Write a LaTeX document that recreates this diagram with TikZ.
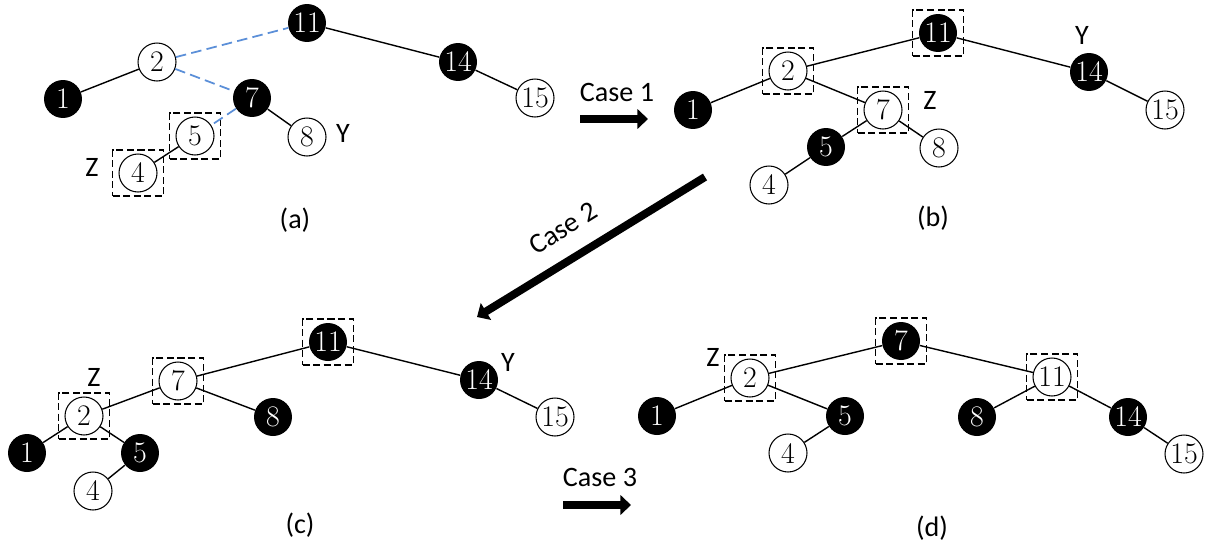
\documentclass[tikz,border=0pt]{standalone}
\usepackage{fontspec}
\setsansfont{Carlito}
\usepackage{tikz}
\usetikzlibrary{arrows.meta}
\definecolor{LinkBlue}{HTML}{5B8FD8}

\tikzset{
  bnode/.style={circle, fill=black, text=white, minimum size=0.76cm,
    inner sep=0pt, font=\fontsize{17}{17}\selectfont},
  wnode/.style={circle, draw, fill=white, minimum size=0.76cm,
    inner sep=0pt, line width=0.6pt, font=\fontsize{17}{17}\selectfont},
  selbox/.style={draw, dash pattern=on 4pt off 2pt, line width=0.7pt,
    minimum width=1.02cm, minimum height=0.92cm, inner sep=0pt},
  lbl/.style={font=\sffamily\fontsize{16}{19}\selectfont, inner sep=0pt},
  link/.style={line width=0.8pt},
  bluelink/.style={draw=LinkBlue, dash pattern=on 6pt off 3pt, line width=1pt},
  casearrow/.style={line width=4pt, -{Triangle[length=6pt,width=11pt]}}
}

\begin{document}
\begin{tikzpicture}[x=0.02cm, y=-0.02cm]
  \useasboundingbox (0,0) rectangle (1213,548);

  % (a)
  \node[bnode] (a11) at (307,23) {11};
  \node[wnode] (a2) at (157,62) {2};
  \node[bnode] (a1) at (63,99) {1};
  \node[bnode] (a7) at (252,98) {7};
  \node[wnode] (a5) at (195,136) {5};
  \node[wnode] (a8) at (307,137) {8};
  \node[wnode] (a4) at (138,173) {4};
  \node[bnode] (a14) at (458,62) {14};
  \node[wnode] (a15) at (535,98) {15};
  \node[selbox] (a5box) at (a5) {};
  \node[selbox] (a4box) at (a4) {};
  \node[lbl] (aY) at (343,133) {Y};
  \node[lbl] (aZ) at (92,167) {Z};
  \node[lbl] (acap) at (295,220) {(a)};
  \foreach \u/\v in {a11/a14, a14/a15, a2/a1, a7/a8, a5/a4}
    \draw[link] (\u) -- (\v);
  \foreach \u/\v in {a2/a11, a2/a7, a7/a5}
    \draw[bluelink] (\u) -- (\v);

  % (b)
  \node[bnode] (b11) at (938,33) {11};
  \node[bnode] (b14) at (1089,72) {14};
  \node[wnode] (b15) at (1165,110) {15};
  \node[wnode] (b2) at (788,71) {2};
  \node[bnode] (b1) at (693,110) {1};
  \node[wnode] (b7) at (883,110) {7};
  \node[bnode] (b5) at (826,147) {5};
  \node[wnode] (b8) at (939,148) {8};
  \node[wnode] (b4) at (769,185) {4};
  \node[selbox] (b11box) at (b11) {};
  \node[selbox] (b2box) at (b2) {};
  \node[selbox] (b7box) at (b7) {};
  \node[lbl] (bY) at (1082,35) {Y};
  \node[lbl] (bZ) at (930,100) {Z};
  \node[lbl] (bcap) at (933,218) {(b)};
  \foreach \u/\v in {b11/b2, b11/b14, b14/b15, b2/b1, b2/b7, b7/b5, b7/b8, b5/b4}
    \draw[link] (\u) -- (\v);

  % (c)
  \node[bnode] (c11) at (328,342) {11};
  \node[wnode] (c7) at (178,381) {7};
  \node[wnode] (c2) at (84,416) {2};
  \node[bnode] (c8) at (273,417) {8};
  \node[bnode] (c1) at (27,453) {1};
  \node[bnode] (c5) at (140,453) {5};
  \node[wnode] (c4) at (93,491) {4};
  \node[bnode] (c14) at (479,380) {14};
  \node[wnode] (c15) at (555,417) {15};
  \node[selbox] (c11box) at (c11) {};
  \node[selbox] (c7box) at (c7) {};
  \node[selbox] (c2box) at (c2) {};
  \node[lbl] (cY) at (508,362) {Y};
  \node[lbl] (cZ) at (94,377) {Z};
  \node[lbl] (ccap) at (300,525) {(c)};
  \foreach \u/\v in {c11/c7, c11/c14, c14/c15, c7/c2, c7/c8, c2/c1, c2/c5, c5/c4}
    \draw[link] (\u) -- (\v);

  % (d)
  \node[bnode] (d7) at (901,341) {7};
  \node[wnode] (d2) at (750,378) {2};
  \node[bnode] (d1) at (657,416) {1};
  \node[bnode] (d5) at (845,416) {5};
  \node[wnode] (d4) at (788,453) {4};
  \node[wnode] (d11) at (1052,377) {11};
  \node[bnode] (d8) at (977,417) {8};
  \node[bnode] (d14) at (1128,417) {14};
  \node[wnode] (d15) at (1184,454) {15};
  \node[selbox] (d7box) at (d7) {};
  \node[selbox] (d2box) at (d2) {};
  \node[selbox] (d11box) at (d11) {};
  \node[lbl] (dZ) at (713,357) {Z};
  \node[lbl] (dcap) at (932,528) {(d)};
  \foreach \u/\v in {d7/d2, d7/d11, d2/d1, d2/d5, d5/d4, d11/d8, d11/d14, d14/d15}
    \draw[link] (\u) -- (\v);

  % case arrows
  \coordinate (c1s) at (580,119);
  \coordinate (c1e) at (648,119);
  \draw[casearrow] (c1s) -- (c1e);
  \node[lbl] (case1) at (617,92) {Case 1};
  \coordinate (c2s) at (705,177);
  \coordinate (c2e) at (477,317);
  \draw[casearrow, line width=4.5pt] (c2s) -- (c2e);
  \node[lbl, rotate=32] (case2) at (563,228) {Case 2};
  \coordinate (c3s) at (563,505);
  \coordinate (c3e) at (631,505);
  \draw[casearrow] (c3s) -- (c3e);
  \node[lbl] (case3) at (600,477) {Case 3};
\end{tikzpicture}
\end{document}
